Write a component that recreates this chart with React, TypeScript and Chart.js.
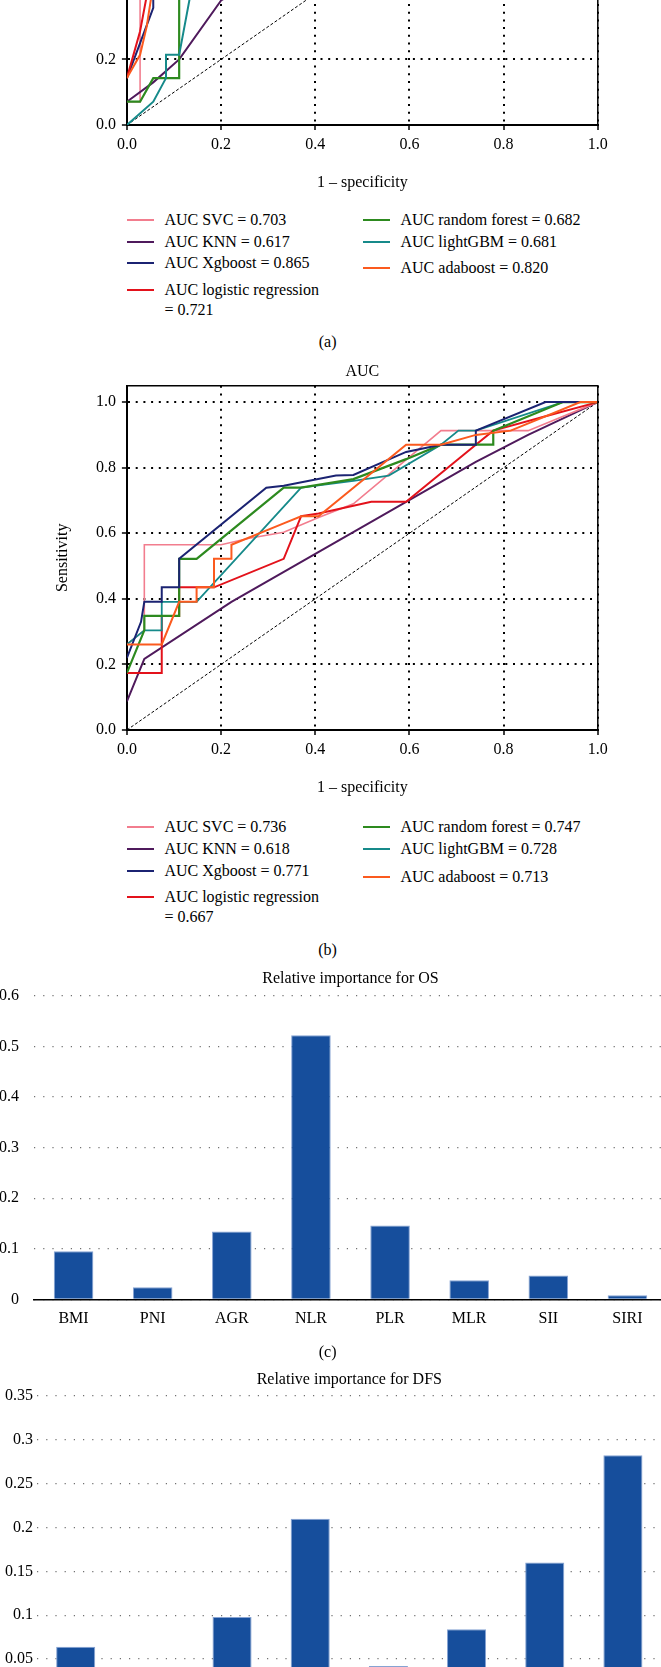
import React, { useEffect, useRef } from "react";
import { Chart, registerables } from "chart.js";

Chart.register(...registerables);

const FONT = "'Liberation Serif', 'Times New Roman', serif";
Chart.defaults.font.family = FONT;
Chart.defaults.font.size = 16;
Chart.defaults.color = "#000";

// ---------- Panel (a) ROC data (OS) ----------
const SVC_A_X = [0, 0.028, 0.028, 0.2, 0.4, 0.6, 0.8, 1];
const SVC_A_Y = [0.071, 0.071, 0.643, 0.7, 0.75, 0.8, 0.9, 1];
const KNN_A_X = [0, 0.056, 0.111, 0.2, 0.5, 0.75, 1];
const KNN_A_Y = [0.071, 0.13, 0.2, 0.38, 0.62, 0.85, 1];
const XGB_A_X = [0, 0.028, 0.056, 0.056, 0.111, 0.25, 0.4, 1];
const XGB_A_Y = [0.143, 0.25, 0.357, 0.714, 0.786, 0.857, 0.929, 1];
const LR_A_X = [0, 0.028, 0.056, 0.2, 0.4, 0.6, 1];
const LR_A_Y = [0.143, 0.286, 0.5, 0.64, 0.75, 0.86, 1];
const RF_A_X = [0, 0.028, 0.056, 0.111, 0.111, 0.3, 0.6, 1];
const RF_A_Y = [0.071, 0.071, 0.143, 0.143, 0.5, 0.65, 0.8, 1];
const LGBM_A_X = [0, 0.056, 0.083, 0.083, 0.111, 0.139, 0.3, 0.6, 1];
const LGBM_A_Y = [0, 0.071, 0.143, 0.214, 0.214, 0.429, 0.6, 0.8, 1];
const ADA_A_X = [0, 0.028, 0.042, 0.056, 0.1, 0.3, 0.6, 1];
const ADA_A_Y = [0.143, 0.214, 0.3, 0.43, 0.6, 0.8, 0.93, 1];

// ---------- Panel (b) ROC data (DFS) ----------
const SVC_B_X = [0, 0.037, 0.037, 0.2, 0.26, 0.333, 0.407, 0.481, 0.667, 0.852, 1];
const SVC_B_Y = [0.261, 0.304, 0.565, 0.565, 0.585, 0.603, 0.648, 0.69, 0.913, 0.913, 1];
const KNN_B_X = [0, 0.037, 0.222, 0.593, 0.741, 0.852, 1];
const KNN_B_Y = [0.087, 0.217, 0.391, 0.696, 0.818, 0.9, 1];
const XGB_B_X = [0, 0.03, 0.037, 0.074, 0.074, 0.111, 0.111, 0.296, 0.333, 0.444, 0.481, 0.593, 0.667, 0.741, 0.741, 0.889, 1];
const XGB_B_Y = [0.22, 0.33, 0.391, 0.391, 0.435, 0.435, 0.522, 0.739, 0.745, 0.776, 0.778, 0.848, 0.87, 0.87, 0.913, 1, 1];
const LR_B_X = [0, 0.074, 0.074, 0.111, 0.111, 0.185, 0.333, 0.37, 0.407, 0.519, 0.593, 0.741, 0.778, 0.889, 1];
const LR_B_Y = [0.174, 0.174, 0.348, 0.348, 0.435, 0.435, 0.522, 0.652, 0.66, 0.696, 0.696, 0.87, 0.913, 0.957, 1];
const RF_B_X = [0, 0.037, 0.037, 0.111, 0.111, 0.148, 0.333, 0.37, 0.481, 0.593, 0.667, 0.778, 0.778, 0.926, 1];
const RF_B_Y = [0.174, 0.304, 0.348, 0.348, 0.522, 0.522, 0.739, 0.739, 0.765, 0.826, 0.87, 0.87, 0.913, 1, 1];
const LGBM_B_X = [0, 0.037, 0.074, 0.074, 0.148, 0.37, 0.481, 0.556, 0.667, 0.704, 0.741, 0.926, 1];
const LGBM_B_Y = [0.261, 0.304, 0.304, 0.391, 0.391, 0.739, 0.76, 0.776, 0.87, 0.913, 0.913, 1, 1];
const ADA_B_X = [0, 0.074, 0.111, 0.148, 0.148, 0.185, 0.185, 0.222, 0.222, 0.333, 0.37, 0.407, 0.593, 0.667, 0.741, 0.815, 0.963, 1];
const ADA_B_Y = [0.261, 0.261, 0.391, 0.391, 0.435, 0.435, 0.522, 0.522, 0.565, 0.63, 0.652, 0.652, 0.87, 0.87, 0.9, 0.913, 1, 1];

const DIAG_X = [0, 1];
const DIAG_Y = [0, 1];

const AUC_A = ["0.703", "0.617", "0.865", "0.721", "0.682", "0.681", "0.820"];
const AUC_B = ["0.736", "0.618", "0.771", "0.667", "0.747", "0.728", "0.713"];
const MODEL_NAMES = ["SVC", "KNN", "Xgboost", "logistic regression", "random forest", "lightGBM", "adaboost"];

// ---------- Panels (c), (d) bar data ----------
const FEATURES = ["BMI", "PNI", "AGR", "NLR", "PLR", "MLR", "SII", "SIRI"];
const OS_IMPORTANCE = [0.095, 0.024, 0.134, 0.522, 0.146, 0.0375, 0.047, 0.008];
const DFS_IMPORTANCE = [0.064, 0.03, 0.098, 0.21, 0.042, 0.084, 0.16, 0.2825];

const COLORS = {
  SVC: "#f27d8e",
  KNN: "#4f1a5c",
  XGB: "#1b2372",
  LR: "#e3121b",
  RF: "#2d8a1f",
  LGBM: "#168a8a",
  ADA: "#fb5a1e",
};

type Series = { x: number[]; y: number[]; color: string; width: number; dash?: number[] };

const framePlugin = {
  id: "frame",
  afterDatasetsDraw(chart: any) {
    const { ctx, chartArea: a } = chart;
    ctx.save();
    ctx.strokeStyle = "#000";
    ctx.lineWidth = 1.5;
    ctx.beginPath();
    ctx.moveTo(a.left, a.top);
    ctx.lineTo(a.right, a.top);
    ctx.lineTo(a.right, a.bottom);
    ctx.stroke();
    ctx.restore();
  },
};

function rocConfig(series: Series[]): any {
  const datasets = series.map((s) => ({
    data: s.x.map((x, i) => ({ x, y: s.y[i] })),
    borderColor: s.color,
    borderWidth: s.width,
    borderDash: s.dash || [],
    pointRadius: 0,
    fill: false,
    tension: 0,
  }));
  const font = { family: FONT, size: 16 };
  const grid = {
    color: "#000",
    lineWidth: 2,
    tickLength: 5,
    tickColor: "#000",
    tickWidth: 1.5,
    tickBorderDash: [],
  };
  const border = { display: true, color: "#000", width: 2, dash: [2, 5.7] };
  return {
    type: "line",
    data: { datasets },
    plugins: [framePlugin],
    options: {
      responsive: false,
      animation: false,
      layout: { padding: { left: 0, right: 661 - 597.8, top: 0, bottom: 0 } },
      plugins: {
        legend: { display: false },
        tooltip: { enabled: false },
        title: {
          display: true,
          text: "AUC",
          fullSize: false,
          color: "#000",
          font: { family: FONT, size: 16, weight: "normal" },
          padding: { top: 17.4, bottom: 4.1 },
        },
      },
      scales: {
        x: {
          type: "linear",
          min: 0,
          max: 1,
          ticks: {
            stepSize: 0.2,
            padding: 5.4,
            color: "#000",
            font,
            maxRotation: 0,
            callback: (v: any) => Number(v).toFixed(1),
          },
          grid,
          border,
          title: { display: true, text: "1 – specificity", color: "#000", font, padding: { top: 0, bottom: 17.4 } },
          afterFit: (s: any) => {
            s.height = 85;
          },
        },
        y: {
          type: "linear",
          min: 0,
          max: 1.05,
          ticks: {
            stepSize: 0.2,
            includeBounds: false,
            padding: 5.9,
            color: "#000",
            font,
            callback: (v: any) => Number(v).toFixed(1),
          },
          grid,
          border,
          title: { display: true, text: "Sensitivity", color: "#000", font, padding: { top: 53.4, bottom: 0 } },
          afterFit: (s: any) => {
            s.width = 126.9;
          },
        },
      },
    },
  };
}

type BarOpts = {
  title: string;
  values: number[];
  yMax: number;
  step: number;
  yWidth: number;
  yPad: number;
  xHeight: number;
  padRight: number;
  titleTop: number;
  titleBottom: number;
};

function barConfig(o: BarOpts): any {
  const font = { family: FONT, size: 16 };
  return {
    type: "bar",
    data: {
      labels: FEATURES,
      datasets: [
        {
          data: o.values,
          backgroundColor: "#164e9c",
          borderColor: "#86a3d3",
          borderWidth: { top: 1, left: 1, right: 1, bottom: 0 },
          barPercentage: 0.5,
          categoryPercentage: 1,
        },
      ],
    },
    options: {
      responsive: false,
      animation: false,
      layout: { padding: { left: 0, right: o.padRight, top: 0, bottom: 0 } },
      plugins: {
        legend: { display: false },
        tooltip: { enabled: false },
        title: {
          display: true,
          text: o.title,
          fullSize: false,
          color: "#000",
          font: { family: FONT, size: 16, weight: "normal" },
          padding: { top: o.titleTop, bottom: o.titleBottom },
        },
      },
      scales: {
        x: {
          type: "category",
          offset: true,
          grid: { display: false, drawTicks: false },
          border: { display: true, color: "#000", width: 1.5 },
          ticks: { color: "#000", font, padding: 10.1, maxRotation: 0, autoSkip: false },
          afterFit: (s: any) => {
            s.height = o.xHeight;
          },
        },
        y: {
          type: "linear",
          min: 0,
          max: o.yMax,
          ticks: {
            stepSize: o.step,
            padding: o.yPad,
            color: "#000",
            font,
            callback: (v: any) => String(Number(Number(v).toFixed(2))),
          },
          grid: { color: "#707070", lineWidth: 1.2, drawTicks: false },
          border: { display: false, dash: [1.2, 8] },
          afterFit: (s: any) => {
            s.width = o.yWidth;
          },
        },
      },
    },
  };
}

function ChartCanvas(props: { left: number; top: number; width: number; height: number; make: () => any }) {
  const ref = useRef<HTMLCanvasElement>(null);
  useEffect(() => {
    const chart = new Chart(ref.current as HTMLCanvasElement, props.make());
    return () => chart.destroy();
  }, []);
  return (
    <canvas
      ref={ref}
      width={props.width}
      height={props.height}
      style={{ position: "absolute", left: props.left, top: props.top, width: props.width, height: props.height }}
    />
  );
}

const textStyle: React.CSSProperties = {
  position: "absolute",
  fontFamily: FONT,
  fontSize: 16,
  lineHeight: "20px",
  whiteSpace: "nowrap",
  color: "#000",
};

function Legend(props: { aucs: string[]; rows: number[] }) {
  const colors = [COLORS.SVC, COLORS.KNN, COLORS.XGB, COLORS.LR, COLORS.RF, COLORS.LGBM, COLORS.ADA];
  const cols = [0, 0, 0, 0, 1, 1, 1];
  const lineX = [126.5, 362.6];
  const textX = [164.4, 400.5];
  return (
    <>
      {MODEL_NAMES.map((name, i) => {
        const y = props.rows[i];
        const c = cols[i];
        const lines = name === "logistic regression" ? ["AUC " + name, "= " + props.aucs[i]] : ["AUC " + name + " = " + props.aucs[i]];
        return (
          <React.Fragment key={name}>
            <div style={{ position: "absolute", left: lineX[c], top: y - 1, width: 27.4, height: 2, background: colors[i] }} />
            <div style={{ ...textStyle, left: textX[c], top: y - 10 }}>
              {lines.map((l, k) => (
                <div key={k}>{l}</div>
              ))}
            </div>
          </React.Fragment>
        );
      })}
    </>
  );
}

function Caption(props: { text: string; y: number }) {
  return <div style={{ ...textStyle, left: 277.6, width: 100, textAlign: "center", top: props.y - 10 }}>{props.text}</div>;
}

const DIAG: Series = { x: DIAG_X, y: DIAG_Y, color: "#000", width: 1, dash: [3, 2] };

const SERIES_A: Series[] = [
  { x: ADA_A_X, y: ADA_A_Y, color: COLORS.ADA, width: 2 },
  { x: LR_A_X, y: LR_A_Y, color: COLORS.LR, width: 2 },
  { x: XGB_A_X, y: XGB_A_Y, color: COLORS.XGB, width: 2 },
  { x: LGBM_A_X, y: LGBM_A_Y, color: COLORS.LGBM, width: 2 },
  { x: RF_A_X, y: RF_A_Y, color: COLORS.RF, width: 2.2 },
  { x: KNN_A_X, y: KNN_A_Y, color: COLORS.KNN, width: 2 },
  { x: SVC_A_X, y: SVC_A_Y, color: COLORS.SVC, width: 1.6 },
  DIAG,
];

const SERIES_B: Series[] = [
  { x: ADA_B_X, y: ADA_B_Y, color: COLORS.ADA, width: 2 },
  { x: XGB_B_X, y: XGB_B_Y, color: COLORS.XGB, width: 2 },
  { x: RF_B_X, y: RF_B_Y, color: COLORS.RF, width: 2.2 },
  { x: LGBM_B_X, y: LGBM_B_Y, color: COLORS.LGBM, width: 1.8 },
  { x: LR_B_X, y: LR_B_Y, color: COLORS.LR, width: 2 },
  { x: SVC_B_X, y: SVC_B_Y, color: COLORS.SVC, width: 1.6 },
  { x: KNN_B_X, y: KNN_B_Y, color: COLORS.KNN, width: 2 },
  DIAG,
];

export default function App() {
  return (
    <div
      style={{
        position: "absolute",
        left: 0,
        top: 0,
        width: 661,
        height: 1667,
        overflow: "hidden",
        background: "#fff",
      }}
    >
      <ChartCanvas left={0} top={-260} width={661} height={470} make={() => rocConfig(SERIES_A)} />
      <Legend aucs={AUC_A} rows={[220, 241.7, 262.7, 290, 220, 241.7, 268.3]} />
      <Caption text="(a)" y={342} />

      <ChartCanvas left={0} top={345} width={661} height={470} make={() => rocConfig(SERIES_B)} />
      <Legend aucs={AUC_B} rows={[827, 849, 871, 897, 827, 849, 877]} />
      <Caption text="(b)" y={950} />

      <ChartCanvas
        left={-20}
        top={955}
        width={700}
        height={400}
        make={() =>
          barConfig({
            title: "Relative importance for OS",
            values: OS_IMPORTANCE,
            yMax: 0.6,
            step: 0.1,
            yWidth: 54,
            yPad: 15,
            xHeight: 55.7,
            padRight: 13,
            titleTop: 14.4,
            titleBottom: 7.1,
          })
        }
      />
      <Caption text="(c)" y={1351.7} />

      <ChartCanvas
        left={-20}
        top={1355}
        width={700}
        height={400}
        make={() =>
          barConfig({
            title: "Relative importance for DFS",
            values: DFS_IMPORTANCE,
            yMax: 0.35,
            step: 0.05,
            yWidth: 56.6,
            yPad: 3.5,
            xHeight: 52.2,
            padRight: 18,
            titleTop: 15.4,
            titleBottom: 6.4,
          })
        }
      />
    </div>
  );
}
